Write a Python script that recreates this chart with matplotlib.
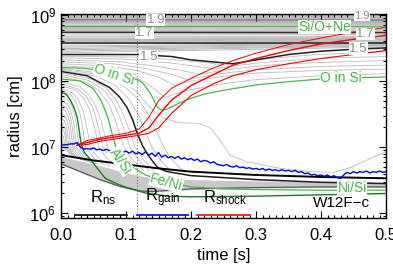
import matplotlib
matplotlib.use("Agg")
import matplotlib.pyplot as plt
from matplotlib.ticker import FixedLocator, LogLocator, MultipleLocator, NullFormatter

# ---- data (log10 of radius in cm) ----
# infalling grey mass shells: one (t, log r) list per shell
fall_t = [
    [0, .0016, .0024, .003, .0034, .0037, .004, .016, .034],
    [0, .0024, .0036, .0045, .0051, .0056, .006, .018, .036],
    [0, .0032, .0048, .006, .0068, .0074, .008, .02, .038],
    [0, .004, .006, .0075, .0085, .0093, .010, .022, .04],
    [0, .0048, .0072, .009, .0102, .0112, .012, .024, .042],
    [0, .006, .009, .0113, .0128, .014, .015, .027, .045],
    [0, .0072, .0108, .0135, .0153, .0167, .018, .03, .048],
    [0, .0084, .0126, .0158, .0179, .0195, .021, .033, .051],
    [0, .0096, .0144, .018, .0204, .0223, .024, .036, .054],
    [0, .011, .017, .021, .024, .026, .028, .04, .058],
    [0, .0152, .0228, .0285, .0323, .0353, .038, .05, .068],
    [0, .018, .027, .034, .038, .042, .045, .057, .075],
    [0, .023, .035, .0435, .049, .054, .058, .07, .088],
    [0, .026, .039, .049, .055, .060, .065, .077, .095],
    [0, .029, .043, .054, .061, .067, .072, .084, .102],
    [0, .039, .058, .073, .082, .090, .097, .109, .127],
    [0, .042, .064, .08, .09, .099, .106, .118, .136],
    [0, .0456, .0684, .0855, .0969, .106, .114, .126, .144],
    [0, .056, .084, .105, .119, .130, .14, .152, .17],
    [0, .063, .095, .1185, .134, .147, .158, .17, .19],
]
fall_lr = [
    [7.11, 7.10, 7.09, 7.07, 7.05, 7.03, 7.0, 6.87, 6.82],
    [7.20, 7.18, 7.16, 7.12, 7.08, 7.04, 7.0, 6.86, 6.81],
    [7.29, 7.27, 7.23, 7.18, 7.12, 7.06, 7.0, 6.86, 6.80],
    [7.36, 7.33, 7.29, 7.22, 7.15, 7.07, 7.0, 6.85, 6.79],
    [7.44, 7.40, 7.35, 7.27, 7.18, 7.09, 7.0, 6.85, 6.78],
    [7.51, 7.47, 7.41, 7.32, 7.21, 7.10, 7.0, 6.84, 6.77],
    [7.59, 7.54, 7.47, 7.37, 7.25, 7.12, 7.0, 6.84, 6.76],
    [7.65, 7.60, 7.52, 7.40, 7.27, 7.13, 7.0, 6.84, 6.75],
    [7.71, 7.65, 7.57, 7.44, 7.30, 7.14, 7.0, 6.84, 6.75],
    [7.77, 7.71, 7.62, 7.48, 7.32, 7.15, 7.0, 6.84, 6.74],
    [7.86, 7.79, 7.69, 7.53, 7.36, 7.17, 7.0, 6.84, 6.73],
    [7.89, 7.82, 7.71, 7.55, 7.37, 7.18, 7.0, 6.84, 6.72],
    [7.93, 7.86, 7.74, 7.58, 7.39, 7.19, 7.0, 6.84, 6.70],
    [7.96, 7.88, 7.77, 7.60, 7.40, 7.19, 7.0, 6.83, 6.69],
    [7.99, 7.91, 7.79, 7.61, 7.42, 7.20, 7.0, 6.83, 6.68],
    [8.07, 7.98, 7.86, 7.66, 7.45, 7.21, 7.0, 6.82, 6.65],
    [8.10, 8.01, 7.88, 7.68, 7.46, 7.22, 7.0, 6.82, 6.64],
    [8.125, 8.035, 7.90, 7.70, 7.47, 7.225, 7.0, 6.82, 6.63],
    [8.165, 8.07, 7.93, 7.72, 7.49, 7.23, 7.0, 6.82, 6.62],
    [8.18, 8.09, 7.94, 7.73, 7.50, 7.24, 7.0, 6.82, 6.62],
]

# shells that the shock sweeps outward
eject_t = [
    [0, .06, .1, .13, .16, .18, .2, .25, .3, .4, .5],
    [0, .07, .12, .15, .175, .2, .25, .3, .4, .5],
    [0, .08, .13, .17, .195, .22, .26, .3, .4, .5],
    [0, .09, .15, .19, .215, .24, .28, .33, .4, .5],
    [0, .1, .17, .21, .235, .26, .3, .35, .42, .5],
    [0, .12, .19, .23, .25, .28, .32, .38, .44, .5],
]
eject_lr = [
    [8.23, 8.2, 8.12, 7.98, 7.75, 7.82, 7.87, 7.96, 8.02, 8.08, 8.11],
    [8.26, 8.23, 8.15, 8.06, 7.93, 8.0, 8.07, 8.12, 8.16, 8.18],
    [8.29, 8.26, 8.19, 8.1, 8.02, 8.07, 8.13, 8.17, 8.22, 8.24],
    [8.32, 8.29, 8.22, 8.15, 8.10, 8.15, 8.2, 8.25, 8.28, 8.31],
    [8.35, 8.33, 8.27, 8.22, 8.18, 8.22, 8.27, 8.31, 8.35, 8.37],
    [8.375, 8.36, 8.31, 8.27, 8.24, 8.29, 8.34, 8.39, 8.42, 8.44],
]

# outer shells, value at t=0 and t=0.5
outer_lr0 = [8.425, 8.45, 8.47, 8.49, 8.51, 8.53, 8.56, 8.595, 8.61, 8.63, 8.645,
             8.665, 8.68, 8.71, 8.75, 8.76, 8.775, 8.79, 8.805, 8.84, 8.86, 8.875,
             8.89, 8.905, 8.94, 8.955, 8.97, 8.985, 9.0, 9.015]
outer_lr1 = [8.515, 8.53, 8.54, 8.55, 8.56, 8.57, 8.58, 8.6, 8.615, 8.63, 8.645,
             8.66, 8.675, 8.705, 8.745, 8.755, 8.77, 8.785, 8.8, 8.835, 8.855, 8.87,
             8.885, 8.9, 8.935, 8.95, 8.965, 8.98, 8.995, 9.01]

# odd shell that hangs in the gain layer and falls late
rogue_t = [0, .06, .09, .115, .13, .145, .16, .183, .21, .229, .245, .26, .286,
           .337, .386, .42, .448, .478, .5]
rogue_lr = [8.192, 8.12, 8.02, 7.85, 7.68, 7.52, 7.43, 7.37, 7.36, 7.30, 7.1, 6.88,
            6.78, 6.68, 6.63, 6.62, 6.70, 6.84, 6.93]

# labelled mass shells (dark)
m19_lr = [8.925, 8.92]
m17_lr = [8.735, 8.73]
mblk_lr = [8.58, 8.58]
m15_t = [0, .12, .17, .2, .265, .3, .35, .4, .45, .5]
m15_lr = [8.40, 8.40, 8.37, 8.32, 8.26, 8.32, 8.40, 8.45, 8.48, 8.50]
blk_t = [0, .04, .075, .09, .1015, .11, .117, .125, .132, .14, .148, .16, .17,
         .2, .3, .4, .5]
blk_lr = [8.144, 8.08, 7.90, 7.76, 7.60, 7.42, 7.22, 7.03, 6.91, 6.80, 6.70, 6.64,
          6.62, 6.57, 6.51, 6.47, 6.45]

# composition boundaries (green)
sio_lr = [8.822, 8.82]
osi_t = [0, .03, .055, .08, .106, .117, .126, .137, .148, .155, .162, .17, .185,
         .2, .22, .25, .3, .35, .4, .45, .5]
osi_lr = [8.204, 8.195, 8.17, 8.12, 8.05, 8.02, 7.97, 7.82, 7.61, 7.56, 7.57, 7.61,
          7.68, 7.74, 7.80, 7.86, 7.94, 7.99, 8.03, 8.05, 8.06]
alsi_t = [0, .03, .05, .062, .072, .08, .086, .095, .11, .13, .16, .2, .25, .3, .4, .5]
alsi_lr = [8.03, 8.0, 7.88, 7.7, 7.45, 7.15, 6.95, 6.82, 6.70, 6.58, 6.48, 6.40,
           6.37, 6.36, 6.35, 6.35]
dgreen_t = [0, .008, .014, .02, .025, .028, .031, .036, .045, .052, .068, .085,
            .098, .129, .165, .2, .3, .4, .5]
dgreen_lr = [7.83, 7.80, 7.72, 7.60, 7.45, 7.25, 7.05, 6.92, 6.82, 6.73, 6.53, 6.45,
             6.40, 6.31, 6.26, 6.25, 6.26, 6.28, 6.30]

# proto-neutron star region
rns_t = [0, .05, .1, .15, .2, .3, .4, .5]
rns_lr = [6.88, 6.80, 6.74, 6.68, 6.63, 6.58, 6.55, 6.53]
band_t = [0, .03, .06, .09, .12, .14, .2, .3, .4, .5]
band_top = [6.86, 6.79, 6.72, 6.64, 6.57, 6.54, 6.51, 6.49, 6.48, 6.47]
band_bot = [6.74, 6.62, 6.50, 6.40, 6.33, 6.32, 6.36, 6.38, 6.39, 6.39]

# shock radius (max / mean / min)
red_t = [0.025, 0.04, 0.06, 0.08, 0.10, 0.12, 0.135, 0.15, 0.17, 0.2, 0.235, 0.265,
         0.3, 0.35, 0.4, 0.45, 0.5]
red_max = [7.03, 7.10, 7.14, 7.18, 7.21, 7.27, 7.45, 7.70, 7.89, 8.04, 8.20, 8.31,
           8.42, 8.55, 8.65, 8.74, 8.81]
red_mid = [7.03, 7.07, 7.12, 7.15, 7.18, 7.21, 7.29, 7.48, 7.71, 7.93, 8.10, 8.24,
           8.34, 8.46, 8.56, 8.63, 8.69]
red_min = [7.03, 7.04, 7.09, 7.12, 7.15, 7.18, 7.21, 7.29, 7.51, 7.78, 7.96, 8.08,
           8.17, 8.26, 8.34, 8.40, 8.46]

# gain radius, every 5 ms
gain_lr = [7.03, 7.035, 7.04, 7.05, 7.05, 7.07, 7.00, 6.97, 6.98, 6.97,
           6.99, 6.96, 6.97, 6.95, 6.97, 6.94, 6.96, 6.93, 6.95, 6.92,
           6.94, 6.91, 6.94, 6.90, 6.92, 6.89, 6.93, 6.88, 6.91, 6.86,
           6.92, 6.85, 6.88, 6.84, 6.86, 6.83, 6.86, 6.82, 6.84, 6.81,
           6.83, 6.80, 6.82, 6.78, 6.80, 6.79, 6.76, 6.78, 6.74, 6.73,
           6.72, 6.74, 6.71, 6.70, 6.72, 6.69, 6.70, 6.68, 6.69, 6.67,
           6.68, 6.66, 6.68, 6.65, 6.67, 6.65, 6.66, 6.64, 6.66, 6.64,
           6.65, 6.63, 6.65, 6.62, 6.63, 6.60, 6.61, 6.58, 6.59, 6.57,
           6.58, 6.56, 6.58, 6.55, 6.57, 6.54, 6.53, 6.58, 6.62, 6.60,
           6.63, 6.61, 6.63, 6.62, 6.64, 6.61, 6.63, 6.62, 6.64, 6.62, 6.63]
gain_t = [i * 0.005 for i in range(len(gain_lr))]

t_dotted = 0.117
ends = [0, 0.5]

GREY = "#bcbcbc"
GREEN = "#48b848"
DGREEN = "#1f7a1f"


def R(vals):
    return [10 ** v for v in vals]


plt.rcParams["font.family"] = ["Liberation Sans", "DejaVu Sans"]
plt.rcParams["mathtext.fontset"] = "custom"
plt.rcParams["mathtext.rm"] = "Liberation Sans"
plt.rcParams["mathtext.it"] = "Liberation Sans:italic"

fig = plt.figure(figsize=(3.93, 2.75), dpi=100)
ax = fig.add_axes([61 / 393, 57 / 275, 325 / 393, 204.5 / 275])
ax.set_yscale("log")

# grey fill at the top and around the neutron star
ax.fill_between(ends, [10 ** 8.87] * 2, [10 ** 9.03] * 2, color="#d2d2d2", lw=0, zorder=0)
ax.fill_between(band_t, R(band_bot), R(band_top), color="#c8c8c8", lw=0, zorder=1)

for lo, hi in zip(outer_lr0, outer_lr1):
    ax.plot(ends, R([lo, hi]), color="#b0b0b0", lw=0.6, zorder=1)
for tt, ll in zip(fall_t, fall_lr):
    ax.plot(tt, R(ll), color=GREY, lw=0.6, zorder=1)
for tt, ll in zip(eject_t, eject_lr):
    ax.plot(tt, R(ll), color=GREY, lw=0.6, zorder=1)
ax.plot(rogue_t, R(rogue_lr), color=GREY, lw=0.6, zorder=1)
ax.plot(band_t, R([b + 0.01 for b in band_bot]), color="#505050", lw=0.8, zorder=2)

ax.plot(ends, R(m19_lr), color="#707070", lw=0.9, zorder=2)
ax.plot(ends, R(m17_lr), color="#303030", lw=1.1, zorder=2)
ax.plot(ends, R(mblk_lr), color="#202020", lw=1.1, zorder=2)
ax.plot(m15_t, R(m15_lr), color="#202020", lw=1.1, zorder=2)
ax.plot(blk_t, R(blk_lr), color="#202020", lw=1.1, zorder=2)
ax.plot(rns_t, R(rns_lr), color="black", lw=1.4, zorder=3)

ax.plot(ends, R(sio_lr), color=GREEN, lw=0.9, zorder=2.5)
ax.plot(osi_t, R(osi_lr), color=GREEN, lw=0.9, zorder=2.5)
ax.plot(alsi_t, R(alsi_lr), color=GREEN, lw=0.9, zorder=2.5)
ax.plot(dgreen_t, R(dgreen_lr), color=DGREEN, lw=1.0, zorder=2.5)

ax.plot(red_t, R(red_max), color="red", lw=0.7, zorder=3)
ax.plot(red_t, R(red_mid), color="red", lw=1.0, zorder=3)
ax.plot(red_t, R(red_min), color="red", lw=0.8, zorder=3)
ax.plot(gain_t, R(gain_lr), color="blue", lw=1.0, zorder=3)

ax.axvline(t_dotted, color="#707070", lw=0.8, ls=(0, (1, 1.6)), zorder=2)

# contour style labels
box = dict(facecolor="white", edgecolor="none", pad=0.2)
for tx, ly, s, fs in [(0.146, 8.925, "1.9", 9.5), (0.463, 8.985, "1.9", 8),
                      (0.128, 8.725, "1.7", 9.5), (0.468, 8.71, "1.7", 9.5),
                      (0.135, 8.37, "1.5", 9.5), (0.457, 8.49, "1.5", 9.5)]:
    ax.text(tx, 10 ** ly, s, color="#8c8c8c", fontsize=fs, ha="center", va="center",
            bbox=box, zorder=4)
for tx, ly, s, rot in [(0.405, 8.818, "Si/O+Ne", 0), (0.431, 8.046, "O in Si", 0),
                       (0.082, 8.10, "O in Si", -18), (0.092, 6.79, "Al/Si", -55),
                       (0.162, 6.47, "Fe/Ni", -15), (0.448, 6.385, "Ni/Si", 0)]:
    ax.text(tx, 10 ** ly, s, color=GREEN, fontsize=10, ha="center", va="center",
            rotation=rot, rotation_mode="anchor", bbox=box, zorder=4)

# legend-like labels under the curves
ax.text(0.129, 0.098, r"R$_{\rm ns}$", transform=ax.transAxes, fontsize=12,
        ha="center", va="center", zorder=5)
ax.text(0.314, 0.098, r"R$_{\rm gain}$", transform=ax.transAxes, fontsize=12,
        ha="center", va="center", zorder=5)
ax.text(0.505, 0.098, r"R$_{\rm shock}$", transform=ax.transAxes, fontsize=12,
        ha="center", va="center", zorder=5)
ax.plot([0.043, 0.203], [0.016, 0.016], color="black", lw=1.2, transform=ax.transAxes, zorder=5)
ax.plot([0.234, 0.391], [0.016, 0.016], color="blue", lw=1.2, transform=ax.transAxes, zorder=5)
ax.plot([0.418, 0.582], [0.016, 0.016], color="red", lw=1.2, transform=ax.transAxes, zorder=5)
ax.text(0.862, 0.075, "W12F\u2212c", transform=ax.transAxes, fontsize=11,
        ha="center", va="center", zorder=5)

ax.set_xlim(0, 0.5)
ax.set_ylim(10 ** 5.93, 10 ** 9.02)
ax.xaxis.set_major_locator(MultipleLocator(0.1))
ax.xaxis.set_minor_locator(MultipleLocator(0.01))
ax.set_xticklabels([f"{v:.1f}" for v in ax.get_xticks()])
ax.yaxis.set_major_locator(FixedLocator([1e6, 1e7, 1e8, 1e9]))
ax.set_yticklabels([r"$10^{6}$", r"$10^{7}$", r"$10^{8}$", r"$10^{9}$"])
ax.yaxis.set_minor_locator(LogLocator(base=10, subs=range(2, 10)))
ax.yaxis.set_minor_formatter(NullFormatter())
ax.tick_params(which="both", direction="in", top=True, right=True, labelsize=12, width=0.8)
ax.tick_params(which="major", length=5)
ax.tick_params(which="minor", length=2.5)
ax.tick_params(axis="x", which="major", pad=7)
for sp in ax.spines.values():
    sp.set_linewidth(1.0)

ax.set_xlabel("time [s]", fontsize=12, labelpad=4)
ax.set_ylabel("radius [cm]", fontsize=12, labelpad=5)

fig.savefig("out.png", dpi=100)
